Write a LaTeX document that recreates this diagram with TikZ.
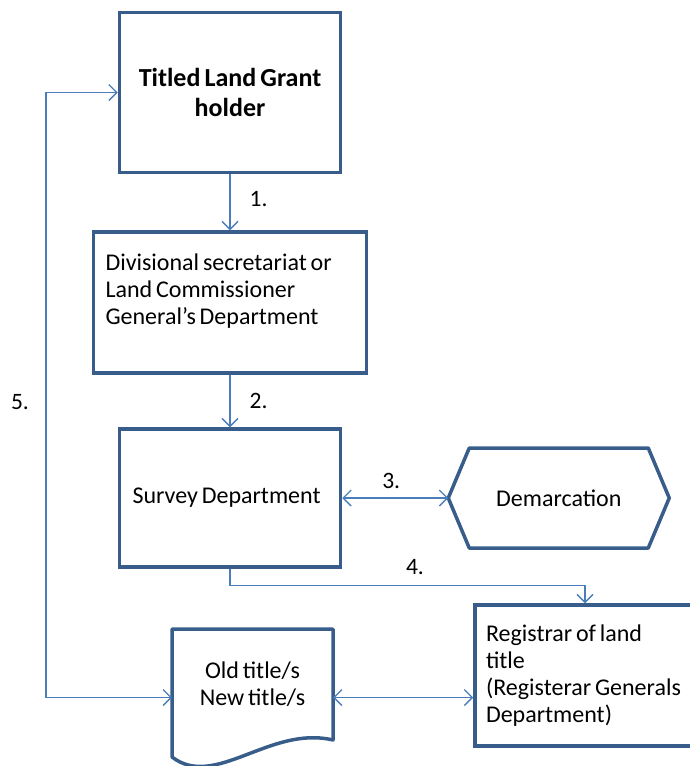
\documentclass[tikz,border=0pt]{standalone}
\usepackage{fontspec}
\setmainfont{Carlito}[WordSpace=0.7]
\usetikzlibrary{arrows.meta,positioning}

\definecolor{boxblue}{RGB}{56,93,138}
\definecolor{linkblue}{RGB}{74,126,187}

\begin{document}
\begin{tikzpicture}[
        x=1pt, y=-1pt,
        node distance=56pt and 106pt,
        box/.style={rectangle, draw=boxblue, line width=3.5pt, fill=white, inner sep=0pt, align=flush left, font=\fontsize{24}{27}\selectfont},
        shapeline/.style={draw=boxblue, line width=3.5pt, line join=round},
        plain/.style={rectangle, draw=none, inner sep=0pt, outer sep=0pt, align=center, font=\fontsize{24}{27}\selectfont},
        num/.style={inner sep=0pt, font=\fontsize{23.5}{27}\selectfont},
        link/.style={draw=linkblue, line width=1.3pt, -{Straight Barb[length=8pt, width=16pt]}},
        twoway/.style={link, {Straight Barb[length=8pt, width=16pt]}-{Straight Barb[length=8pt, width=16pt]}}
    ]
        \useasboundingbox (0,0) rectangle (689,766);

        \node[box, align=center, minimum width=221pt, minimum height=160pt, font=\fontsize{26}{30}\selectfont\bfseries] (holder) at (230,92.5) {Titled Land Grant\\holder};
        \node[box, text width=249pt, minimum width=273pt, minimum height=141pt, below=of holder] (divsec) {Divisional secretariat or\\Land Commissioner\\General's Department\\\mbox{}};
        \node[box, text width=195pt, minimum width=221pt, minimum height=138pt, below=52.5pt of divsec] (survey) {Survey Department};
        \node[plain, minimum width=221pt, minimum height=100pt, right=of survey] (demarc) {Demarcation};
        \node[box, text width=200pt, minimum width=222pt, minimum height=141pt] (registrar) at (586,675.5) {Registrar of land\\title\\(Registerar Generals\\Department)};
        \node[plain, minimum width=161pt, minimum height=111pt] (titles) at (252.5,684.5) {Old title/s\\New title/s};

        % hexagon and document outlines
        \draw[shapeline] ([xshift=21pt]demarc.north west) -- ([xshift=-21pt]demarc.north east) -- (demarc.east)
            -- ([xshift=-21pt]demarc.south east) -- ([xshift=21pt]demarc.south west) -- (demarc.west) -- cycle;
        \draw[shapeline] (titles.south east) -- (titles.north east) -- (titles.north west) -- ([yshift=-17pt]titles.south west)
            .. controls ([xshift=43pt, yshift=-50pt]titles.south west) and ([xshift=-63pt, yshift=15pt]titles.south east) .. (titles.south east) -- cycle;

        \draw[link] (holder.south) -- node[num, pos=0.45, right=19pt] (n1) {1.} (holder.south |- divsec.north);
        \draw[link] (divsec.south) -- node[num, pos=0.5, right=19pt] (n2) {2.} (divsec.south |- survey.north);
        \draw[twoway] (survey.east) -- node[num, above=9pt, xshift=-4pt] (n3) {3.} (demarc.west);
        \draw[link] (survey.south) -- ++(0,17) coordinate (turn) -| ([xshift=-1pt]registrar.north);
        \node[num] (n4) at (415,567) {4.};
        \draw[twoway] ([yshift=-13pt]titles.east) -- ([yshift=-13pt]titles.east -| registrar.west);
        \draw[twoway] ([yshift=-13pt]titles.west) -| ([xshift=-71.75pt]holder.west) -- (holder.west);
        \node[num] (n5) at (20,402) {5.};
    \end{tikzpicture}
\end{document}
